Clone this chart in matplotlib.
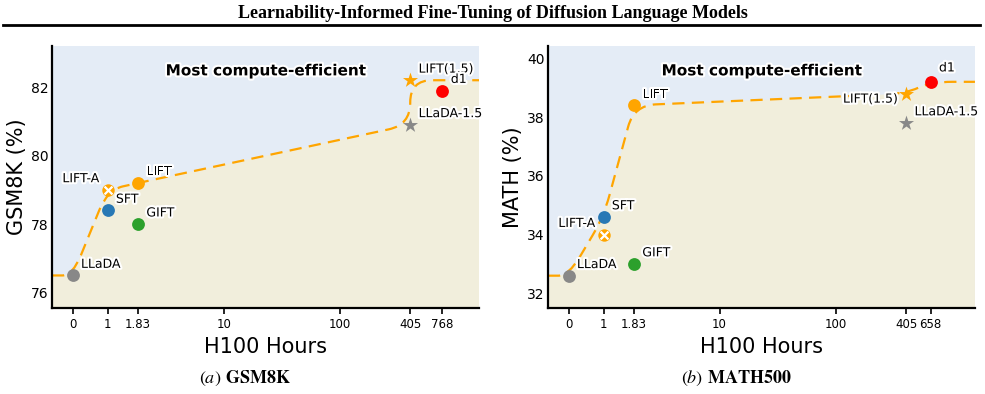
import numpy as np
import matplotlib
matplotlib.use('Agg')
import matplotlib.pyplot as plt
import matplotlib.patheffects as pe
from matplotlib.path import Path
from matplotlib.patches import PathPatch

plt.rcParams['mathtext.fontset'] = 'stix'

# data
methods = ['LLaDA', 'SFT', 'LIFT-A', 'LIFT', 'GIFT', 'LLaDA-1.5', 'LIFT(1.5)', 'd1']
gsm_hours = [0, 1, 1, 1.83, 1.83, 405, 405, 768]
gsm_acc = [76.5, 78.4, 79.0, 79.2, 78.0, 80.9, 82.2, 81.9]
math_hours = [0, 1, 1, 1.83, 1.83, 405, 405, 658]
math_acc = [32.6, 34.6, 34.0, 38.4, 33.0, 37.8, 38.8, 39.2]
gsm_frontier = ['LLaDA', 'LIFT-A', 'LIFT', 'LLaDA-1.5', 'LIFT(1.5)']
math_frontier = ['LLaDA', 'SFT', 'LIFT', 'LIFT(1.5)', 'd1']
gsm_xticks = [0, 1, 1.83, 10, 100, 405, 768]
math_xticks = [0, 1, 1.83, 10, 100, 405, 658]
gsm_yticks = [76, 78, 80, 82]
math_yticks = [32, 34, 36, 38, 40]

ZERO_AT = 0.5  # where "0 hours" sits on the log axis
ORANGE = '#FFA500'
styles = {
    'LLaDA': ('o', '#888888', 85),
    'SFT': ('o', '#2878B5', 85),
    'LIFT-A': ('o', ORANGE, 80),
    'LIFT': ('o', ORANGE, 85),
    'GIFT': ('o', '#2CA02C', 85),
    'LLaDA-1.5': ('*', '#888888', 130),
    'LIFT(1.5)': ('*', ORANGE, 130),
    'd1': ('o', '#FF0000', 85),
}
halo = [pe.withStroke(linewidth=3, foreground='white')]


def xpos(h):
    h = np.asarray(h, dtype=float)
    return np.where(h == 0, ZERO_AT, h)


def rounded_path(ax, xs, ys, r=22):
    # round the corners of the frontier in screen space
    d = ax.transData.transform(np.column_stack([xs, ys]))
    verts = [d[0]]
    codes = [Path.MOVETO]
    for i in range(1, len(d) - 1):
        a, b, c = d[i - 1], d[i], d[i + 1]
        l1 = np.linalg.norm(b - a)
        l2 = np.linalg.norm(c - b)
        r1 = min(r, l1 / 2)
        r2 = min(r, l2 / 2)
        verts += [b + (a - b) / l1 * r1, b, b + (c - b) / l2 * r2]
        codes += [Path.LINETO, Path.CURVE3, Path.CURVE3]
    verts.append(d[-1])
    codes.append(Path.LINETO)
    return ax.transData.inverted().transform(np.array(verts)), codes


def panel(ax, hours, acc, frontier, xticks, yticks, ylim, ylabel, offsets):
    ax.set_xscale('log')
    ax.set_xlim(0.332, 1585)
    ax.set_ylim(*ylim)
    ax.set_facecolor('#E4ECF6')
    x = xpos(hours)
    idx = [methods.index(m) for m in frontier]
    fx = [ax.get_xlim()[0]] + list(x[idx]) + [ax.get_xlim()[1]]
    fy = [acc[idx[0]]] + [acc[i] for i in idx] + [acc[idx[-1]]]
    verts, codes = rounded_path(ax, fx, fy)

    # shaded region under the frontier
    fill_v = np.vstack([verts, [[fx[-1], ylim[0]], [fx[0], ylim[0]], [fx[0], ylim[0]]]])
    fill_c = codes + [Path.LINETO, Path.LINETO, Path.CLOSEPOLY]
    ax.add_patch(PathPatch(Path(fill_v, fill_c), facecolor='#F1EEDC', edgecolor='none', zorder=0.5))
    ax.add_patch(PathPatch(Path(verts, codes), facecolor='none', edgecolor=ORANGE, lw=1.6,
                           linestyle=(0, (5.5, 3.3)), zorder=2))

    for i, m in enumerate(methods):
        mk, col, s = styles[m]
        ax.scatter(x[i], acc[i], marker=mk, color=col, s=s, zorder=3, linewidths=0)
        if m == 'LIFT-A':
            ax.scatter(x[i], acc[i], marker='x', color='white', s=32, linewidths=1.6, zorder=4)
        dx, dy, ha = offsets.get(m, (6, 8, 'left'))
        ax.annotate(m, (x[i], acc[i]), xytext=(dx, dy), textcoords='offset points',
                    ha=ha, va='center', fontsize=9, zorder=5, path_effects=halo)

    ax.text(0.5, 0.905, 'Most compute-efficient', transform=ax.transAxes, ha='center',
            va='center', fontsize=11, fontweight='bold', path_effects=halo, zorder=5)

    ax.set_xticks(xpos(xticks))
    ax.set_xticklabels([f'{t:g}' for t in xticks], fontsize=8.5)
    ax.xaxis.set_minor_locator(matplotlib.ticker.NullLocator())
    ax.set_yticks(yticks)
    ax.set_yticklabels([str(t) for t in yticks], fontsize=10)
    ax.tick_params(axis='x', direction='out', length=4, width=1.2)
    ax.tick_params(axis='y', length=0, pad=2.5)
    ax.set_xlabel('H100 Hours', fontsize=15, labelpad=4)
    ax.set_ylabel(ylabel, fontsize=15, labelpad=3)
    for s in ['top', 'right']:
        ax.spines[s].set_visible(False)
    for s in ['left', 'bottom']:
        ax.spines[s].set_linewidth(1.6)


fig = plt.figure(figsize=(9.85, 3.94), dpi=100)
ax1 = fig.add_axes([0.0528, 0.2183, 0.4335, 0.665])
ax2 = fig.add_axes([0.5563, 0.2183, 0.4335, 0.665])

panel(ax1, gsm_hours, gsm_acc, gsm_frontier, gsm_xticks, gsm_yticks, (75.55, 83.2),
      'GSM8K (%)', {'LIFT-A': (-6, 8, 'right')})
panel(ax2, math_hours, math_acc, math_frontier, math_xticks, math_yticks, (31.5, 40.42),
      'MATH (%)', {'LIFT-A': (-6, 8, 'right'), 'LIFT(1.5)': (-6, -4, 'right'), 'd1': (6, 10, 'left')})

fig.text(0.5, 0.967, 'Learnability-Informed Fine-Tuning of Diffusion Language Models',
         ha='center', va='center', fontsize=13, fontweight='bold', family='Liberation Serif')
fig.add_artist(plt.Line2D([0.003, 0.995], [1 - 25 / 394] * 2, color='black', lw=2,
                          transform=fig.transFigure))
for xc, tag, name in [(0.249, '(a)', 'GSM8K'), (0.748, '(b)', 'MATH500')]:
    fig.text(xc, 1 - 378 / 394, f'$\\mathit{{{tag}}}$ $\\mathbf{{{name}}}$', ha='center', va='center',
             fontsize=13)

fig.savefig('out.png', dpi=100)
